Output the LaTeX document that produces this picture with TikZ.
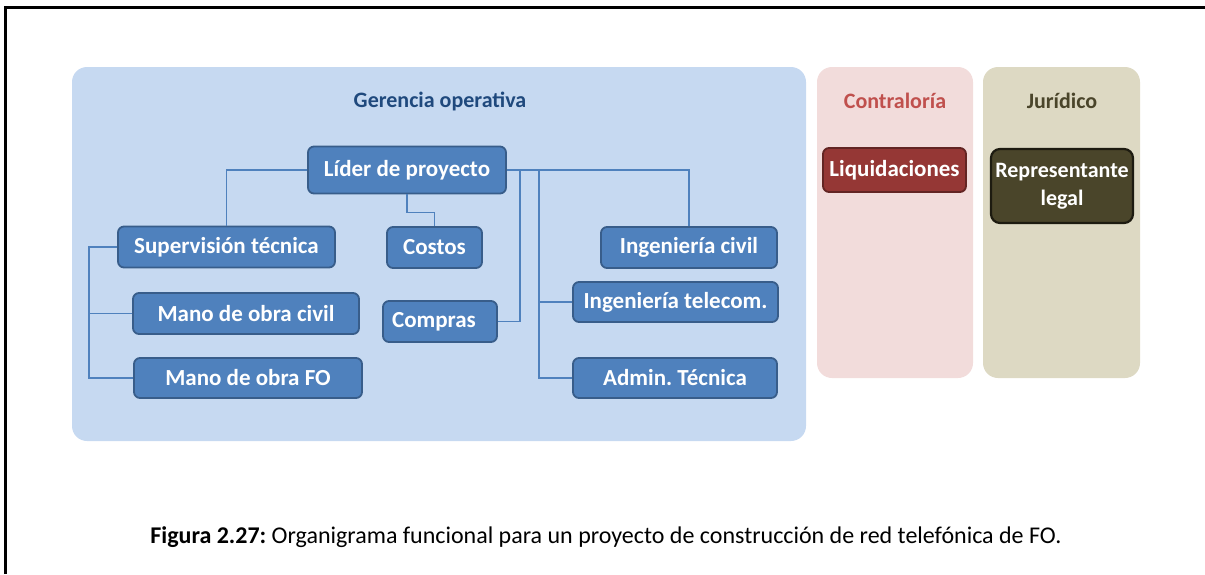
\documentclass[tikz,border=0pt]{standalone}
\usepackage{fontspec}
\setmainfont{Carlito}
\frenchspacing
\definecolor{panelblue}{HTML}{C6D9F1}
\definecolor{panelpink}{HTML}{F2DCDB}
\definecolor{paneltan}{HTML}{DDD9C3}
\definecolor{boxblue}{HTML}{4F81BD}
\definecolor{boxblueedge}{HTML}{385D8A}
\definecolor{titleblue}{HTML}{1F497D}
\definecolor{titlered}{HTML}{C0504D}
\definecolor{titletan}{HTML}{4A452A}
\definecolor{liqfill}{HTML}{953735}
\definecolor{liqedge}{HTML}{632523}
\definecolor{repfill}{HTML}{4A452A}
\definecolor{repedge}{HTML}{1D1B10}
\tikzset{
  panel/.style={rounded corners=15pt, draw=none},
  orgbox/.style={rectangle, rounded corners=6pt, line width=1.8pt, draw=boxblueedge, fill=boxblue,
    text=white, font=\fontsize{23}{26}\selectfont\bfseries, inner sep=0pt, align=center},
  conn/.style={draw=boxblue, line width=1.5pt},
  ptitle/.style={font=\fontsize{22}{25}\selectfont\bfseries, inner sep=0pt}
}
\begin{document}
\begin{tikzpicture}[x=1pt,y=-1pt]
\useasboundingbox (0,0) rectangle (1205,574);
% frame
\draw[line width=3pt] (5,574) -- (5,7) -- (1205,7);
% panels
\fill[panel, fill=panelblue] (72,67) rectangle (806,441);
\fill[panel, fill=panelpink] (817,67) rectangle (973,378);
\fill[panel, fill=paneltan] (983,67) rectangle (1140,378);
% titles
\node[ptitle, text=titleblue] (tger) at (440,101) {Gerencia operativa};
\node[ptitle, text=titlered] (tcon) at (895,101) {Contraloría};
\node[ptitle, text=titletan] (tjur) at (1062,101) {Jurídico};
% boxes
\node[orgbox, minimum width=198pt, minimum height=47pt] (lider) at (407,170) {Líder de proyecto};
\node[orgbox, minimum width=217pt, minimum height=41pt] (sup) at (226.5,247) {Supervisión técnica};
\node[orgbox, minimum width=95pt, minimum height=41pt] (costos) at (434.5,247.5) {Costos};
\node[orgbox, minimum width=176pt, minimum height=41pt] (ingciv) at (689,247.5) {Ingeniería civil};
\node[orgbox, minimum width=226pt, minimum height=41pt] (mciv) at (246,313.5) {Mano de obra civil};
\node[orgbox, minimum width=114pt, minimum height=41pt] (compras) at (440,321.5) {\hspace*{-12pt}Compras};
\node[orgbox, minimum width=205pt, minimum height=40pt] (inget) at (675.5,302) {Ingeniería telecom.};
\node[orgbox, minimum width=228pt, minimum height=40pt] (mfo) at (248,378) {Mano de obra FO};
\node[orgbox, minimum width=204pt, minimum height=40pt] (admin) at (675,378) {Admin. Técnica};
\node[orgbox, draw=liqedge, fill=liqfill, minimum width=143pt, minimum height=44pt] (liq) at (894.5,170) {Liquidaciones};
\node[orgbox, draw=repedge, fill=repfill, line width=2.2pt, rounded corners=9pt, minimum width=142pt, minimum height=74pt, font=\fontsize{22}{28}\selectfont\bfseries] (rep) at (1062,186) {Representante\\legal};
% junctions
\coordinate (j1) at (520,170);
\coordinate (j2) at (539,170);
\coordinate (j3) at (89,247);
% connectors
\draw[conn] (lider.west) -| (sup.north);
\draw[conn] (lider.south) -- ++(0,18) -| (costos.north);
\draw[conn] (lider.east) -| (ingciv.north);
\draw[conn] (j1) |- (compras.east);
\draw[conn] (j2) |- (admin.west);
\draw[conn] (j2 |- inget.west) -- (inget.west);
\draw[conn] (sup.west) -- (j3) |- (mfo.west);
\draw[conn] (j3 |- mciv.west) -- (mciv.west);
% caption
\node[font=\fontsize{24}{27}\selectfont, inner sep=0pt] (cap) at (606,537) {\textbf{Figura 2.27:} Organigrama funcional para un proyecto de construcción de red telefónica de FO.};
\end{tikzpicture}
\end{document}
